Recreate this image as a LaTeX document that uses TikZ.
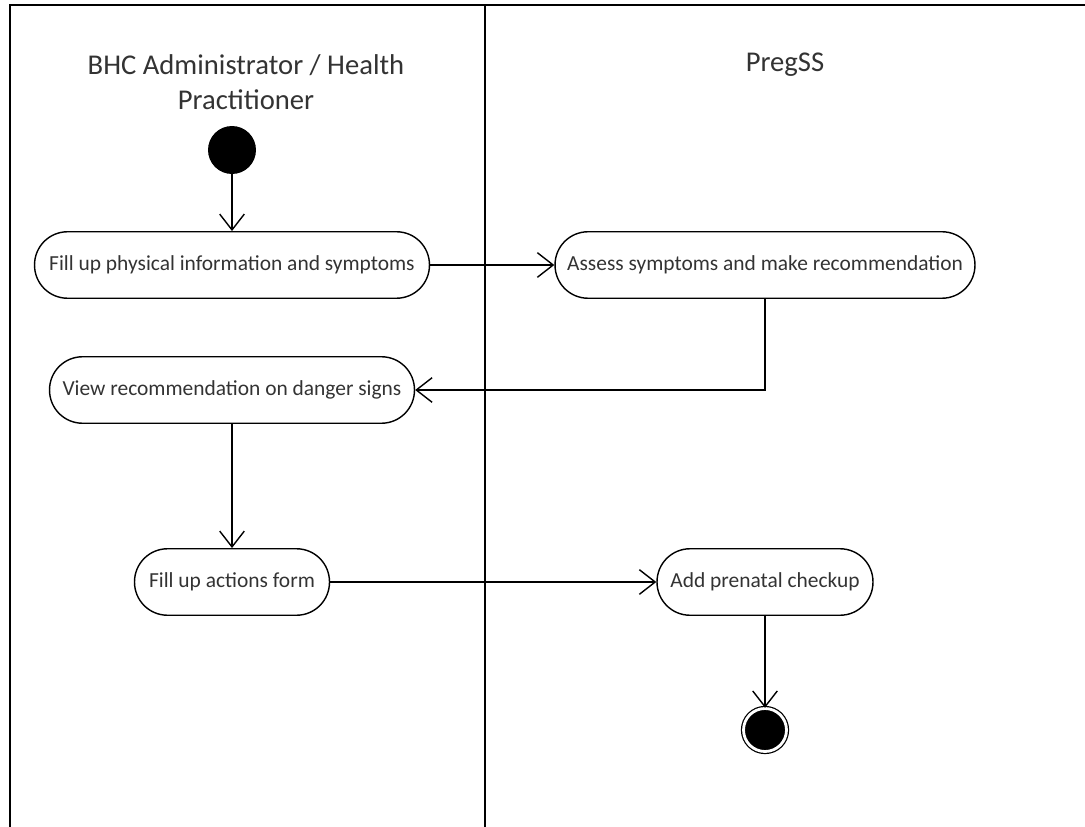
\documentclass[tikz,border=0pt]{standalone}
\usepackage{fontspec}
\setmainfont{Carlito}
\usetikzlibrary{arrows.meta, positioning, shapes.misc}

\begin{document}
\begin{tikzpicture}[x=0.02cm, y=-0.02cm,
    action/.style={draw, line width=0.8pt, rounded corners=0.66cm, minimum height=1.33cm,
                   inner xsep=2pt, font=\fontsize{12.2}{14}\selectfont, text=black!80},
    flow/.style={-{Straight Barb[length=9pt, width=14pt]}, line width=0.8pt},
    lanetitle/.style={font=\fontsize{16.3}{20}\selectfont, text=black!80, align=center}]
    \useasboundingbox (0,0) rectangle (1085,827);

    % swimlanes
    \draw[line width=0.9pt] (10,827) -- (10,5) -- (1085,5);
    \draw[line width=0.9pt] (485,5) -- (485,827);
    \node[lanetitle] (admin) at (246,82) {BHC Administrator / Health\\Practitioner};
    \node[lanetitle] (pregss) at (785,65) {PregSS};

    % start and end
    \node[circle, fill=black, minimum size=0.96cm, inner sep=0pt] (start) at (232,150) {};
    \node[circle, draw, double=white, line width=0.7pt, double distance=1.6pt, fill=black,
          minimum size=0.86cm, inner sep=0pt] (stop) at (765,730) {};

    % actions
    \node[action, minimum width=7.9cm] (fill) at (232,265) {Fill up physical information and symptoms};
    \node[action, minimum width=8.4cm] (assess) at (765,265) {Assess symptoms and make recommendation};
    \node[action, minimum width=7.3cm] (view) at (232,390) {View recommendation on danger signs};
    \node[action, minimum width=3.9cm] (form) at (232,582) {Fill up actions form};
    \node[action, minimum width=4.32cm] (checkup) at (765,582) {Add prenatal checkup};

    % flow
    \draw[flow] (start) -- (fill);
    \draw[flow] (fill) -- (assess);
    \draw[flow] (assess.south) |- (view.east);
    \draw[flow] (view) -- (form);
    \draw[flow] (form) -- (checkup);
    \draw[flow] (checkup) -- (stop);
\end{tikzpicture}
\end{document}
